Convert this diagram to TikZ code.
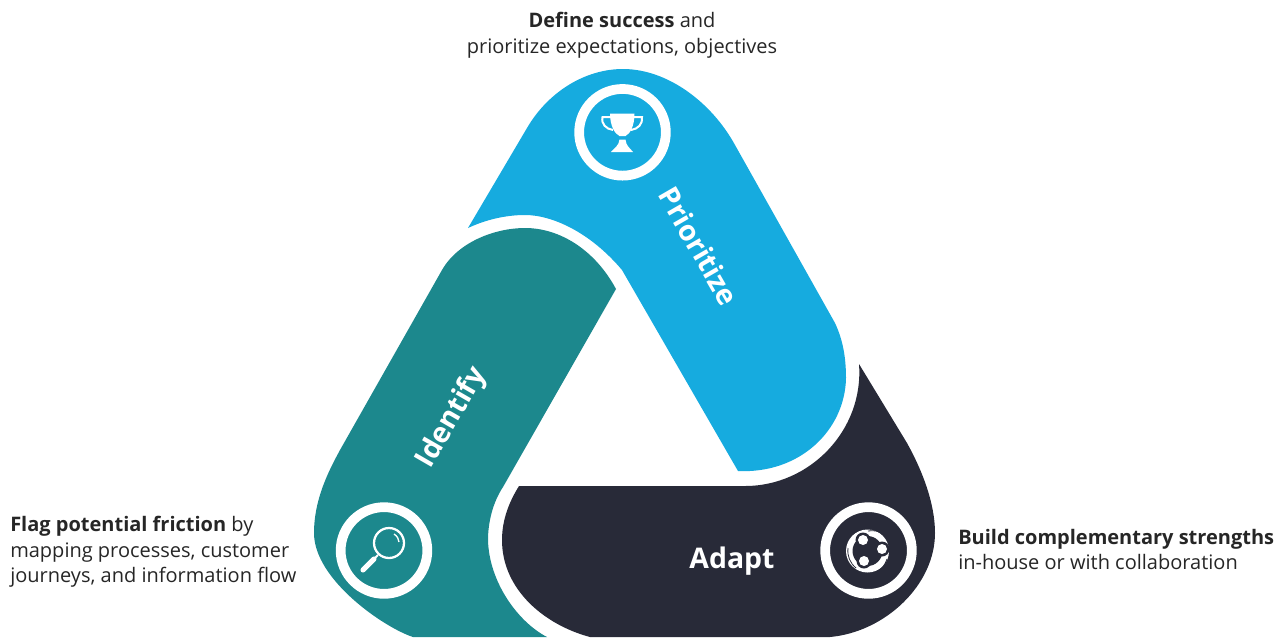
\documentclass[tikz,border=0pt]{standalone}
\usepackage{fontspec}
\setmainfont{Open Sans}
\definecolor{prioritizeblue}{HTML}{16ABDF}
\definecolor{identifyteal}{HTML}{1C888D}
\definecolor{adaptnavy}{HTML}{282A38}
\tikzset{
  ringicon/.style = {circle, draw = white, line width = 7.3pt, minimum size = 65pt, inner sep = 0pt},
  bandlabel/.style = {text = white, font = \fontsize{21.3}{24}\selectfont\bfseries},
  notetext/.style = {font = \fontsize{15}{19.1}\selectfont, text = black!85, inner sep = 0pt, align = left},
  iconline/.style = {draw = white, line width = 1.5pt},
  swoosh/.style = {draw = adaptnavy, line width = 0.6pt}
}
\begin{document}
\begin{tikzpicture}[x = 0.75pt, y = -0.75pt]
	\useasboundingbox (0,0) rectangle (1285,637);
	\begin{scope}
		\clip (0,0) rectangle (1285,637);
		% Draw the three bands
		\fill [prioritizeblue] (468,228) -- (527,128) .. controls (548,92) and (585,69) .. (623,69)
			.. controls (668,69) and (712,103) .. (735,145) -- (835,323)
			.. controls (843,340) and (846,358) .. (846,378)
			.. controls (845,430) and (800,474) .. (738,471)
			-- (622,270) .. controls (590,232) and (552,215) .. (525,215)
			.. controls (505,215) and (485,220) .. (468,228) -- cycle;
		\fill [identifyteal] (616,289) -- (503,487)
			.. controls (493,502) and (488,522) .. (488,540)
			.. controls (489,582) and (518,622) .. (547,637) -- (413,637)
			.. controls (385,628) and (314,580) .. (314,533)
			.. controls (314,500) and (328,472) .. (340,450) -- (442,270)
			.. controls (458,242) and (495,228) .. (525,228)
			.. controls (560,228) and (595,250) .. (616,289) -- cycle;
		\fill [adaptnavy] (519,486) -- (745,486)
			.. controls (810,486) and (864,430) .. (859,364) -- (907,443)
			.. controls (922,470) and (935,503) .. (935,533)
			.. controls (935,585) and (885,632) .. (830,637) -- (590,637)
			.. controls (545,625) and (502,590) .. (502,540)
			.. controls (502,520) and (509,502) .. (519,486) -- cycle;
		% Draw the rings
		\node [ringicon] (trophyring) at (622.5,132.3) {};
		\node [ringicon] (lensring) at (384,550.5) {};
		\node [ringicon] (teamring) at (868.5,550.5) {};
	\end{scope}
	% Draw the trophy
	\fill [white] (610,113.5) -- (634.5,113.5) .. controls (634.5,126) and (630,134) .. (625.5,136) -- (619.5,136)
		.. controls (615,134) and (610,126) .. (610,113.5) -- cycle;
	\fill [white] (619.5,139.5) -- (625.5,139.5) .. controls (626,146) and (630,148) .. (633,152) -- (611,152)
		.. controls (614,148) and (619,146) .. (619.5,139.5) -- cycle;
	\draw [iconline] (610,117) -- (602.5,117) .. controls (601,124) and (606,129) .. (613,130);
	\draw [iconline] (634,117) -- (642,117) .. controls (643,124) and (638,129) .. (631,130);
	% Draw the lens
	\draw [white, line width = 1.7pt] (389,543) circle (15);
	\draw [white, line width = 1pt] (394,534) .. controls (397,536) and (399,539) .. (399,542);
	\draw [white, line width = 1.5pt] (378,555) -- (374,559);
	\draw [white, line width = 3.8pt, line cap = round] (374,559) -- (363,570);
	% Draw the team icon
	\fill [white] (867.5,551) circle (21.5);
	\fill [adaptnavy] (867.5,551) circle (15);
	\fill [adaptnavy] (863,540) circle (7.5) (882,549) circle (7.5) (864,561) circle (7.5);
	\fill [white] (863,540) circle (5) (882,549) circle (5) (864,561) circle (5);
	\draw [swoosh] (868,531) .. controls (874,530) and (880,531) .. (884,535);
	\draw [swoosh] (848,548) .. controls (847,556) and (850,563) .. (856,568);
	\draw [swoosh] (887,559) .. controls (885,565) and (882,569) .. (877,572);
	% Write the band names
	\node [bandlabel, rotate = 60] (identifyname) at (452,418) {Identify};
	\node [bandlabel, rotate = -60] (prioritizename) at (699,246) {Prioritize};
	\node [bandlabel] (adaptname) at (732,561) {Adapt};
	% Write the notes
	\node [notetext, align = center, anchor = north] (definenote) at (622,12) {\textbf{Define success} and\\prioritize expectations, objectives};
	\node [notetext, anchor = north west] (flagnote) at (10,516) {\textbf{Flag potential friction} by\\mapping processes, customer\\journeys, and information flow};
	\node [notetext, anchor = north west] (buildnote) at (958,529) {\textbf{Build complementary strengths}\\in-house or with collaboration};
\end{tikzpicture}
\end{document}
